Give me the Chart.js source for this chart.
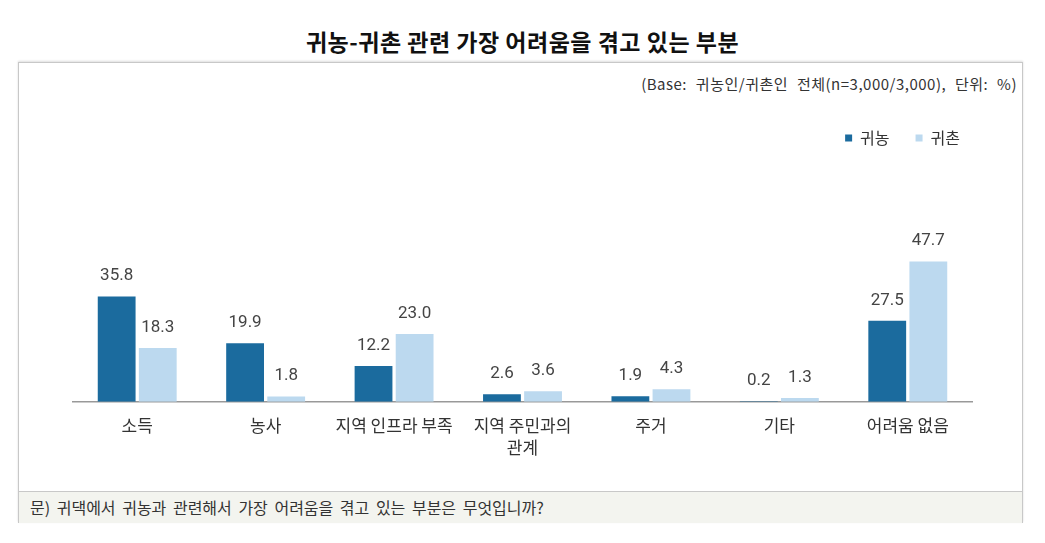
<!DOCTYPE html>
<html><head><meta charset="utf-8">
<script src="https://cdn.jsdelivr.net/npm/chart.js@4"></script>
<style>
html,body{margin:0;padding:0;background:#fff;width:1045px;height:543px;overflow:hidden;font-family:"Noto Sans CJK KR","Noto Sans",sans-serif;}
#title{position:absolute;left:0;width:1045px;top:24px;text-align:center;font-size:23px;font-weight:bold;color:#111;letter-spacing:0.5px;}
#frame{position:absolute;left:18px;top:62px;width:1003px;height:459px;border:1px solid #c8c8c8;box-shadow:0 -1px 2px #ddd;}
#base{position:absolute;right:28px;top:73px;font-size:15px;color:#333;white-space:pre;word-spacing:5px;letter-spacing:0.5px;}
#foot{position:absolute;left:19px;top:491px;width:1003px;height:31px;background:#f3f4ef;border-top:1px solid #c8c8c8;font-size:16px;color:#333;line-height:31px;text-indent:11px;white-space:pre;word-spacing:3px;}
#wrap{position:absolute;left:20px;top:104px;width:1000px;height:386px;}
</style></head><body>
<div id="title">귀농-귀촌 관련 가장 어려움을 겪고 있는 부분</div>
<div id="frame"></div>
<div id="base">(Base: 귀농인/귀촌인 전체(n=3,000/3,000), 단위: %)</div>
<div id="foot">문) 귀댁에서 귀농과 관련해서 가장 어려움을 겪고 있는 부분은 무엇입니까?</div>
<div id="wrap"><canvas id="c"></canvas></div>
<script>
const categories = ['소득','농사','지역 인프라 부족',['지역 주민과의','관계'],'주거','기타','어려움 없음'];
const seriesNames = ['귀농','귀촌'];
const farmValues = [35.8,19.9,12.2,2.6,1.9,0.2,27.5];
const ruralValues = [18.3,1.8,23.0,3.6,4.3,1.3,47.7];

const valueLabels = {
  id:'valueLabels',
  afterDatasetsDraw(chart){
    const ctx = chart.ctx;
    ctx.save();
    ctx.font = '17px Roboto, "Noto Sans", sans-serif';
    ctx.fillStyle = '#444';
    ctx.textAlign = 'center';
    ctx.textBaseline = 'bottom';
    chart.data.datasets.forEach((ds,i)=>{
      chart.getDatasetMeta(i).data.forEach((bar,j)=>{
        ctx.fillText(ds.data[j].toFixed(1), bar.x, bar.y - 12);
      });
    });
    ctx.restore();
  }
};

new Chart(document.getElementById('c'),{
  type:'bar',
  data:{
    labels:categories,
    datasets:[
      {label:seriesNames[0],data:farmValues,backgroundColor:'#1b6b9e'},
      {label:seriesNames[1],data:ruralValues,backgroundColor:'#bcd9ef'}
    ]
  },
  options:{
    responsive:true,maintainAspectRatio:false,animation:false,
    layout:{padding:{left:53,right:34,top:0,bottom:18}},
    datasets:{bar:{categoryPercentage:0.64,barPercentage:0.92}},
    plugins:{
      legend:{position:'top',align:'end',
        labels:{boxWidth:7,boxHeight:7,padding:26,color:'#333',font:{size:16,family:'"Noto Sans CJK KR"'}}},
      tooltip:{enabled:false}
    },
    scales:{
      x:{grid:{display:false,drawTicks:false},border:{color:'#999',width:1.5},
        ticks:{padding:13,color:'#333',font:{size:17,family:'"Noto Sans CJK KR"',lineHeight:1.3}}},
      y:{position:'right',min:0,max:83.5,grid:{display:false,drawTicks:false},border:{display:false},
        ticks:{display:false},afterFit(s){s.width=14;}}
    }
  },
  plugins:[valueLabels]
});
</script>
</body></html>
